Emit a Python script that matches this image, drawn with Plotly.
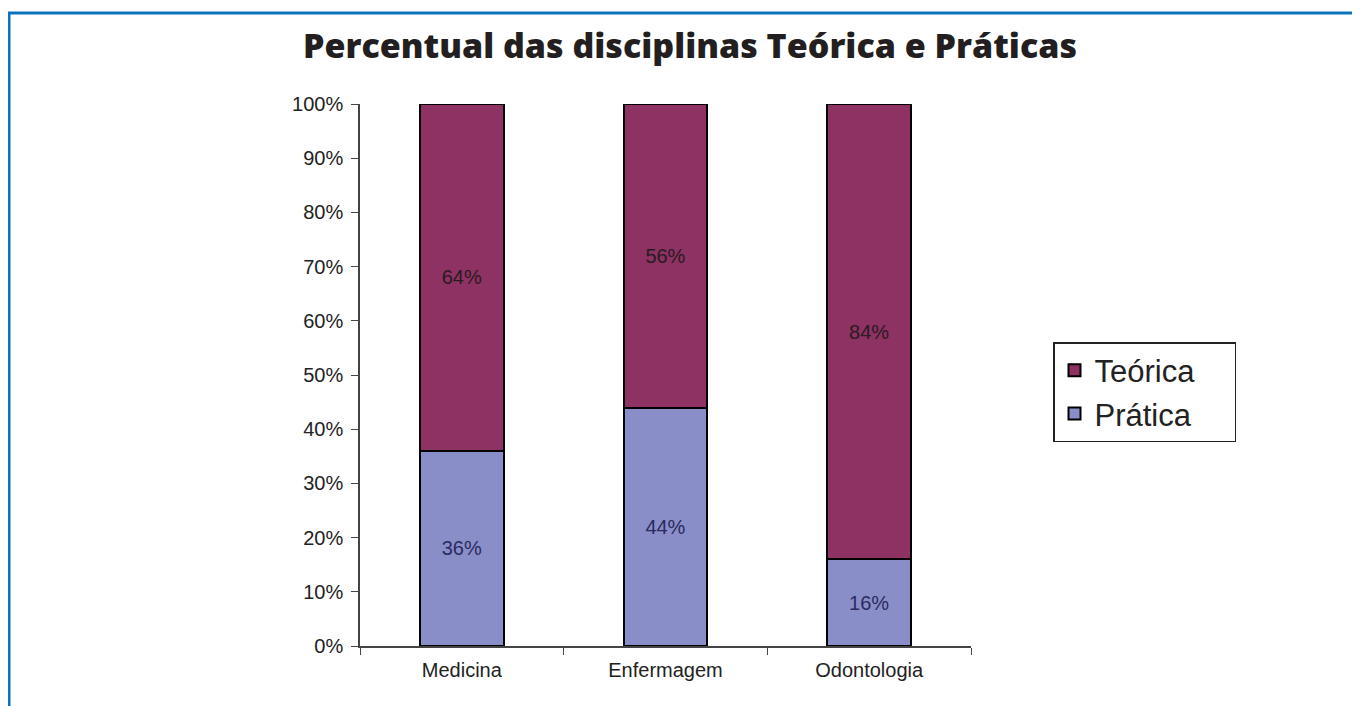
import plotly.graph_objects as go

categorias = ["Medicina", "Enfermagem", "Odontologia"]
pratica = [36, 44, 16]
teorica = [64, 56, 84]
rotulos_pratica = ["36%", "44%", "16%"]
rotulos_teorica = ["64%", "56%", "84%"]
ticks_y = [0, 10, 20, 30, 40, 50, 60, 70, 80, 90, 100]
ticks_y_txt = [f"{v}%" for v in ticks_y]

# page body has an 8px margin; coordinates below are screen pixels
OFF = 8
W, H = 1360, 706
L, R, T, B = 360 - OFF, 389 + OFF, 104 - OFF, 60 + OFF
pw, ph = W - L - R, H - T - B

PAD = "&nbsp;" * 4

fig = go.Figure()
fig.add_trace(go.Bar(
    x=categorias, y=pratica, name="Prática" + PAD, text=rotulos_pratica,
    textposition="inside", insidetextanchor="middle",
    textfont=dict(family="Liberation Sans, Arial", size=20, color="#2a2a60"),
    marker=dict(color="#8a8ec8", line=dict(color="#000000", width=2)),
    width=0.41,
))
fig.add_trace(go.Bar(
    x=categorias, y=teorica, name="Teórica" + PAD, text=rotulos_teorica,
    textposition="inside", insidetextanchor="middle",
    textfont=dict(family="Liberation Sans, Arial", size=20, color="#2a1a22"),
    marker=dict(color="#8d3262", line=dict(color="#000000", width=2)),
    width=0.41,
))

def px(x):
    return (x - OFF - L) / pw

def py(y):
    return (H - B - (y - OFF)) / ph

fig.add_shape(type="rect", xref="paper", yref="paper",
              x0=px(9), x1=px(1400), y0=py(760), y1=py(13),
              line=dict(color="#0b72c0", width=3), fillcolor="rgba(0,0,0,0)")

fig.update_layout(
    width=W, height=H,
    margin=dict(l=L, r=R, t=T, b=B, autoexpand=False),
    barmode="stack",
    paper_bgcolor="white", plot_bgcolor="white",
    title=dict(text="Percentual das disciplinas Teórica e Práticas",
               x=((305 + 1075) / 2 - OFF) / W, xanchor="center",
               y=1 - (46 - OFF) / H, yanchor="middle",
               font=dict(family="Open Sans", size=34, weight=800, color="#231f20")),
    showlegend=True,
    legend=dict(x=px(1053), y=py(342), xanchor="left", yanchor="top",
                bordercolor="#222222", borderwidth=1.5,
                font=dict(family="Liberation Sans, Arial", size=31, color="#222222"),
                traceorder="reversed", itemwidth=30, tracegroupgap=0),
)
fig.update_xaxes(showgrid=False, showline=True, linecolor="#444444", linewidth=1.5,
                 ticks="outside", tickson="boundaries", ticklen=7, tickcolor="#444444",
                 ticklabelstandoff=5,
                 tickfont=dict(family="Liberation Sans, Arial", size=20, color="#222222"))
fig.update_yaxes(range=[0, 100], tickvals=ticks_y, ticktext=ticks_y_txt,
                 showgrid=False, showline=True, linecolor="#444444", linewidth=1.5,
                 ticks="outside", ticklen=7, tickcolor="#444444",
                 ticklabelstandoff=4,
                 tickfont=dict(family="Liberation Sans, Arial", size=20, color="#222222"),
                 zeroline=False)

fig.write_html("out.html")
